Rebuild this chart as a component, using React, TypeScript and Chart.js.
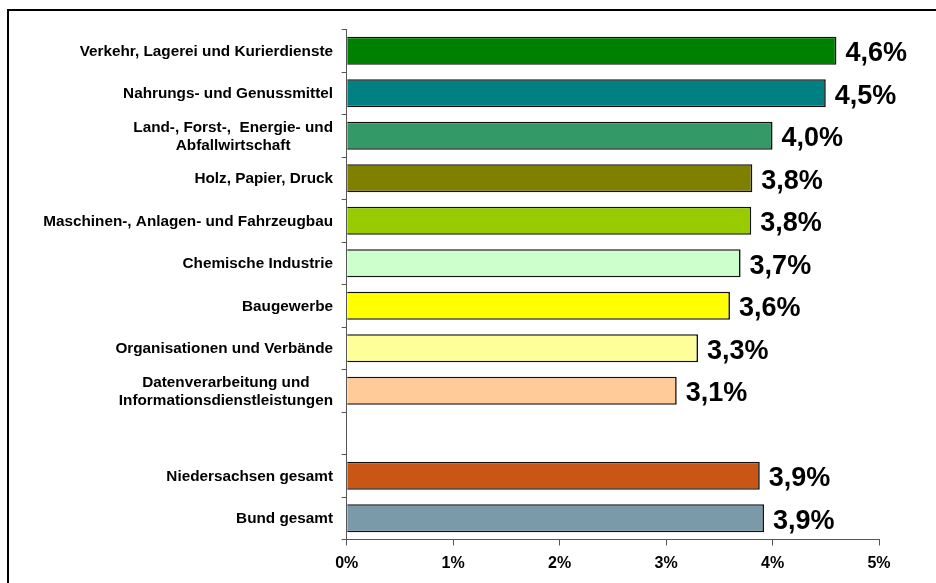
import React, { useEffect, useRef } from "react";
import { Chart, registerables } from "chart.js";

Chart.register(...registerables);

const categories: string[][] = [
  ["Verkehr, Lagerei und Kurierdienste"],
  ["Nahrungs- und Genussmittel"],
  ["Land-, Forst-,  Energie- und", "Abfallwirtschaft"],
  ["Holz, Papier, Druck"],
  ["Maschinen-, Anlagen- und Fahrzeugbau"],
  ["Chemische Industrie"],
  ["Baugewerbe"],
  ["Organisationen und Verbände"],
  ["Datenverarbeitung und", "Informationsdienstleistungen"],
  [""],
  ["Niedersachsen gesamt"],
  ["Bund gesamt"],
];

const values: (number | null)[] = [4.6, 4.5, 4.0, 3.81, 3.8, 3.7, 3.6, 3.3, 3.1, null, 3.88, 3.92];

const barColors: string[] = [
  "#008000",
  "#008080",
  "#339966",
  "#808000",
  "#99CC00",
  "#CCFFCC",
  "#FFFF00",
  "#FFFF99",
  "#FFCC99",
  "#FFFFFF",
  "#CA5615",
  "#7B9AA9",
];

const xTicks: number[] = [0, 1, 2, 3, 4, 5];

const FONT = '"Liberation Sans", Arial, sans-serif';

const framePlugin = {
  id: "frameAndLabels",
  afterDraw(chart: any) {
    const ctx = chart.ctx as CanvasRenderingContext2D;
    const yScale = chart.scales.y;
    const xScale = chart.scales.x;
    ctx.save();
    // frame
    ctx.fillStyle = "#000";
    ctx.fillRect(7, 9, 936, 2);
    ctx.fillRect(7, 9, 2, 583);

    // category labels
    ctx.font = `bold 15.3px ${FONT}`;
    ctx.fillStyle = "#000";
    ctx.textBaseline = "middle";
    ctx.textAlign = "center";
    const rightEdge = 333;
    categories.forEach((lines, i) => {
      const yc = yScale.getPixelForValue(i);
      const maxw = Math.max(...lines.map((l) => ctx.measureText(l).width));
      const xc = rightEdge - maxw / 2;
      lines.forEach((line, k) => {
        const y = yc + (k - (lines.length - 1) / 2) * 18;
        ctx.fillText(line, xc, y + 1);
      });
    });

    // value labels
    ctx.font = `bold 27px ${FONT}`;
    ctx.textAlign = "left";
    values.forEach((v, i) => {
      if (v === null) return;
      const x = xScale.getPixelForValue(v) + 9;
      const y = yScale.getPixelForValue(i) + 3;
      ctx.fillText(v.toFixed(1).replace(".", ",") + "%", x, y);
    });
    ctx.restore();
  },
};

export default function App() {
  const ref = useRef<HTMLCanvasElement | null>(null);
  useEffect(() => {
    if (!ref.current) return;
    const chart = new Chart(ref.current, {
      type: "bar",
      data: {
        labels: categories.map((c) => c.join(" ")),
        datasets: [
          {
            data: values as any,
            backgroundColor: barColors,
            borderColor: "#111",
            borderWidth: 1.6,
            barPercentage: 0.66,
            categoryPercentage: 1,
          },
        ],
      },
      options: {
        indexAxis: "y",
        responsive: false,
        animation: false,
        layout: { padding: { left: 0, right: 57, top: 29.5, bottom: 0 } },
        plugins: { legend: { display: false }, tooltip: { enabled: false } },
        scales: {
          x: {
            min: 0,
            max: 5,
            afterBuildTicks: (scale: any) => {
              scale.ticks = xTicks.map((v) => ({ value: v }));
            },
            afterFit: (scale: any) => {
              scale.height = 43.5;
            },
            grid: {
              drawOnChartArea: false,
              drawTicks: true,
              tickLength: 6,
              color: "#555",
            },
            border: { display: true, color: "#555", width: 1 },
            ticks: {
              color: "#000",
              padding: 8,
              font: { family: FONT, size: 16, weight: "bold" },
              callback: (v: any) => v + "%",
            },
          },
          y: {
            afterFit: (scale: any) => {
              scale.width = 346.7;
            },
            grid: {
              drawOnChartArea: false,
              drawTicks: true,
              tickLength: 5,
              color: "#555",
              offset: true,
            },
            border: { display: true, color: "#555", width: 1 },
            ticks: { display: false },
          },
        },
      },
      plugins: [framePlugin],
    });
    return () => chart.destroy();
  }, []);
  return (
    <div style={{ position: "fixed", left: 0, top: 0, width: 936, height: 583, background: "#fff" }}>
      <canvas ref={ref} width={936} height={583} style={{ display: "block" }} />
    </div>
  );
}
